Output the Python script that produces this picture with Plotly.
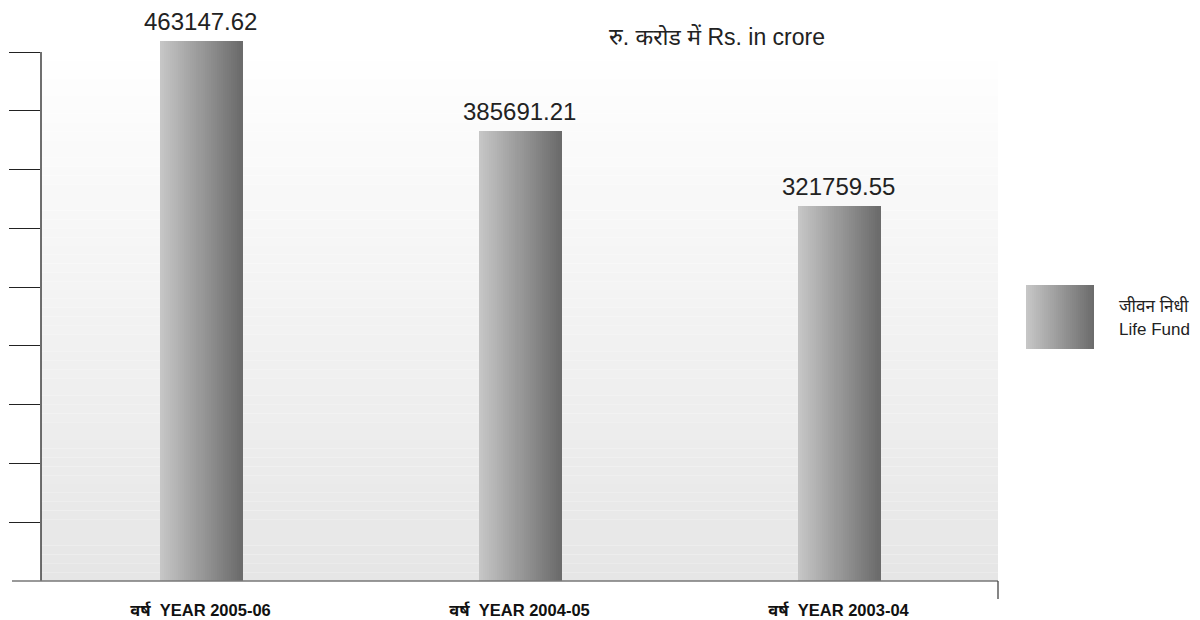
import plotly.graph_objects as go

# ---- data ----
categories = ["वर्ष  YEAR 2005-06", "वर्ष  YEAR 2004-05", "वर्ष  YEAR 2003-04"]
life_fund = [463147.62, 385691.21, 321759.55]
value_labels = ["463147.62", "385691.21", "321759.55"]
series_name = ["जीवन निधी", "Life Fund"]
unit_title = "रु. करोड में Rs. in crore"

# ---- geometry helpers (pixels -> paper) ----
W, H = 1200, 620
L, R, T, B = 41, 998, 20, 581
def px_x(x):
    return (x - L) / (R - L)
def px_y(y):
    return (B - y) / (B - T)

VPP = 858.0                      # value per pixel
YMAX = (B - T) * VPP
AXIS_TOP = (B - 52) * VPP
tickvals = [AXIS_TOP * k / 9 for k in range(1, 10)]

FONT = "Liberation Sans, Arial, Noto Sans, sans-serif"

fig = go.Figure()

# bars drawn as gradient strips (several overlaid bar traces with offsets)
N = 40
bw = 0.257
light = (198, 198, 198)
dark = (108, 108, 108)
for i in range(N):
    t = i / (N - 1)
    c = tuple(int(round(light[j] + (dark[j] - light[j]) * t)) for j in range(3))
    fig.add_trace(go.Bar(
        x=categories, y=life_fund,
        width=bw / N * 1.6, offset=-bw / 2 + i * bw / N if i < N - 1 else bw / 2 - bw / N,
        marker=dict(color="rgb(%d,%d,%d)" % c, line=dict(width=0)),
        showlegend=False, hoverinfo="skip",
    ))

shapes = []
# background vertical gradient
NB = 60
for i in range(NB):
    t = i / NB
    v = int(round(230 + (255 - 230) * t))
    shapes.append(dict(type="rect", xref="paper", yref="y", layer="below",
                       x0=0, x1=1, y0=AXIS_TOP * i / NB, y1=AXIS_TOP * (i + 1) / NB + 1,
                       line=dict(width=0), fillcolor="rgb(%d,%d,%d)" % (v, v, v)))
# left axis line
shapes.append(dict(type="line", xref="paper", yref="y", x0=0, x1=0, y0=0, y1=AXIS_TOP,
                   line=dict(color="#222222", width=1.3)))
# baseline
shapes.append(dict(type="line", xref="paper", yref="paper", x0=px_x(12), x1=1, y0=0, y1=0,
                   line=dict(color="#777777", width=1.6)))
# right end tick
shapes.append(dict(type="line", xref="paper", yref="paper", x0=1, x1=1, y0=0, y1=px_y(599),
                   line=dict(color="#444444", width=1.3)))
# legend swatch (horizontal gradient)
NL = 34
x0s, x1s = px_x(1026), px_x(1094)
for i in range(NL):
    t = i / (NL - 1)
    c = tuple(int(round(light[j] + (dark[j] - light[j]) * t)) for j in range(3))
    shapes.append(dict(type="rect", xref="paper", yref="paper",
                       x0=x0s + (x1s - x0s) * i / NL,
                       x1=x0s + (x1s - x0s) * min(i + 2, NL) / NL,
                       y0=px_y(349), y1=px_y(285), line=dict(width=0),
                       fillcolor="rgb(%d,%d,%d)" % c))

annotations = [
    dict(text=unit_title, xref="paper", yref="paper", x=px_x(717), y=px_y(37),
         xanchor="center", yanchor="middle", showarrow=False,
         font=dict(size=23, color="#222222", family=FONT)),
    dict(text=series_name[0], xref="paper", yref="paper", x=px_x(1117), y=px_y(306),
         xanchor="left", yanchor="middle", showarrow=False,
         font=dict(size=17, color="#222222", family=FONT)),
    dict(text=series_name[1], xref="paper", yref="paper", x=px_x(1117), y=px_y(329),
         xanchor="left", yanchor="middle", showarrow=False,
         font=dict(size=17, color="#222222", family=FONT)),
]
# value labels above the bars
for cat, val, lab in zip(categories, life_fund, value_labels):
    annotations.append(dict(text=lab, x=cat, y=val, xref="x", yref="y",
                            xanchor="center", yanchor="bottom", yshift=4,
                            showarrow=False,
                            font=dict(size=24, color="#222222", family=FONT)))

fig.update_layout(
    width=W, height=H,
    margin=dict(l=L, r=W - R, t=T, b=H - B, pad=0, autoexpand=False),
    paper_bgcolor="white", plot_bgcolor="rgba(0,0,0,0)",
    barmode="overlay", bargap=0,
    showlegend=False,
    shapes=shapes, annotations=annotations,
    font=dict(family=FONT),
)
fig.update_xaxes(
    type="category", range=[-0.5, 2.5], automargin=False,
    tickvals=categories, ticktext=["<b>%s</b>" % c for c in categories],
    tickfont=dict(size=16.5, color="#111111", family=FONT),
    ticks="", showgrid=False, zeroline=False, showline=False,
    ticklabelstandoff=17,
)
fig.update_yaxes(
    range=[0, YMAX], tickvals=tickvals, ticks="outside", ticklen=31, automargin=False,
    tickcolor="#222222", tickwidth=1.2, showticklabels=False,
    showgrid=False, zeroline=False, showline=False,
)

fig.write_html("out.html", config={"displayModeBar": False},
               post_script="document.body.style.margin='0';document.body.style.overflow='hidden';")
